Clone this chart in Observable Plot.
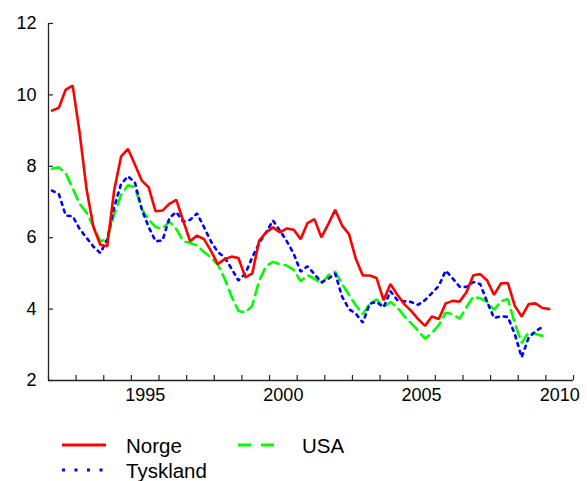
<!DOCTYPE html>
<html><head><meta charset="utf-8">
<script src="https://cdn.jsdelivr.net/npm/d3@7"></script>
<script src="https://cdn.jsdelivr.net/npm/@observablehq/plot@0.6"></script>
<style>
body{margin:0;background:#fff;font-family:"Liberation Sans",Arial,sans-serif;}
#wrap{position:relative;width:587px;height:481px;overflow:hidden;}
.lt{position:absolute;font-size:20.5px;line-height:22px;height:22px;color:#000;white-space:nowrap;}
.ls{position:absolute;}
</style></head><body><div id="wrap"><div id="chart"></div></div>
<script>
// Quarterly data, starting 1992 Q1
const startYear = 1992;
const seriesNames = ["Norge", "Tyskland", "USA"];
const seriesColors = ["#ff0000", "#0000ff", "#00ff00"];
const norge = [
  9.56, 9.64, 10.15, 10.26, 8.95, 7.37, 6.3, 5.8, 5.76, 7.32, 8.27, 8.49,
  8.05, 7.6, 7.41, 6.74, 6.76, 6.95, 7.06, 6.48, 5.9, 6.06, 5.96, 5.64,
  5.26, 5.40, 5.47, 5.43, 4.89, 5.0, 5.92, 6.15, 6.29, 6.15, 6.26, 6.22,
  5.96, 6.41, 6.52, 6.01, 6.38, 6.78, 6.34, 6.10, 5.40, 4.94, 4.94, 4.87,
  4.25, 4.70, 4.40, 4.14, 3.95, 3.72, 3.53, 3.79, 3.72, 4.16, 4.23, 4.21,
  4.47, 4.95, 4.98, 4.80, 4.40, 4.72, 4.73, 4.09, 3.79, 4.14, 4.16, 4.03,
  4.0
];
const tyskland = [
  7.32, 7.22, 6.62, 6.60, 6.25, 6.0, 5.75, 5.57, 5.95, 6.85, 7.5, 7.72,
  7.55, 6.8, 6.3, 5.9, 5.92, 6.55, 6.72, 6.45, 6.5, 6.68, 6.3, 5.9,
  5.6, 5.45, 5.13, 4.8, 5.0, 5.45, 5.85, 6.15, 6.48, 6.2, 5.9, 5.55,
  5.05, 5.2, 4.98, 4.75, 4.85, 5.0, 4.35, 4.0, 3.87, 3.62, 4.15, 4.2,
  4.05, 4.5, 4.25, 4.22, 4.2, 4.12, 4.25, 4.45, 4.65, 5.08, 4.86, 4.63,
  4.62, 4.76, 4.7, 4.2, 3.75, 3.8, 3.78, 3.3, 2.65, 3.2, 3.38, 3.5
];
const usa = [
  7.93, 7.97, 7.8, 7.38, 6.95, 6.7, 6.32, 5.9, 5.95, 6.65, 7.2, 7.47,
  7.42, 6.8, 6.5, 6.3, 6.25, 6.45, 6.25, 5.9, 5.85, 5.78, 5.6, 5.45,
  5.25, 4.85, 4.35, 3.95, 3.9, 4.1, 4.8, 5.2, 5.32, 5.26, 5.22, 5.1,
  4.78, 4.95, 4.85, 4.7, 4.95, 5.05, 4.7, 4.4, 4.1, 3.86, 4.15, 4.27,
  4.05, 4.2, 4.05, 3.8, 3.6, 3.4, 3.17, 3.33, 3.55, 3.9, 3.86, 3.73,
  4.05, 4.35, 4.3, 4.2, 3.98, 4.22, 4.28, 3.6, 3.05, 3.35, 3.3, 3.25
];
const xTickYears = d3.range(1992, 2012);
const xLabelYears = [1995, 2000, 2005, 2010];
const yTicks = [2, 4, 6, 8, 10, 12];

const seriesValues = [norge, tyskland, usa];
const rows = [];
seriesValues.forEach((arr, k) => arr.forEach((v, i) => rows.push({series: seriesNames[k], t: startYear + (i + 0.5) / 4, v})));
const of = name => rows.filter(d => d.series === name);

const W = 587, H = 415, mT = 23, mB = 35, mL = 48, mR = 14, tickLen = 5;
const font = '"Liberation Sans", Arial, sans-serif';
const chart = Plot.plot({
  width: W, height: H,
  marginTop: mT, marginBottom: mB, marginLeft: mL, marginRight: mR,
  style: {fontFamily: font, fontSize: "18px", color: "#000", background: "#fff", overflow: "visible"},
  x: {domain: [1992, 2011], label: null},
  y: {domain: [2, 12], label: null},
  marks: [
    Plot.axisY(yTicks, {tickSize: 0, tickPadding: 12, fontSize: 18, fill: "#000", label: null}),
    Plot.axisX(xLabelYears.map(y => y + 0.5), {tickSize: 0, tickPadding: 8, fontSize: 18, fill: "#000", tickFormat: d => String(Math.floor(d)), label: null}),
    Plot.tickX(xTickYears, {x: d => d, insetTop: H - mT - mB - tickLen, stroke: "#222", strokeWidth: 1.2}),
    Plot.tickY(yTicks, {y: d => d, insetRight: W - mL - mR - tickLen, stroke: "#222", strokeWidth: 1.2}),
    Plot.ruleX([1992], {stroke: "#222", strokeWidth: 1.3}),
    Plot.ruleY([2], {stroke: "#222", strokeWidth: 1.3}),
    Plot.line(of("USA"), {x: "t", y: "v", stroke: seriesColors[2], strokeWidth: 2.6, strokeDasharray: "11,6", strokeLinejoin: "miter"}),
    Plot.line(of("Tyskland"), {x: "t", y: "v", stroke: seriesColors[1], strokeWidth: 2.6, strokeDasharray: "3,5", strokeLinejoin: "miter"}),
    Plot.line(of("Norge"), {x: "t", y: "v", stroke: seriesColors[0], strokeWidth: 2.6, strokeLinejoin: "miter"})
  ]
});
const wrap = document.getElementById("wrap");
document.getElementById("chart").appendChild(chart);

// Legend
const legendItems = [
  {name: seriesNames[0], color: seriesColors[0], dash: null, sx: 62, tx: 126, cy: 446},
  {name: seriesNames[2], color: seriesColors[2], dash: "13,10", sx: 238, tx: 302, cy: 446},
  {name: seriesNames[1], color: seriesColors[1], dash: "3,9.5", sx: 62, tx: 126, cy: 471}
];
for (const it of legendItems) {
  const s = d3.create("svg").attr("class", "ls").attr("width", 46).attr("height", 8)
    .style("left", it.sx + "px").style("top", (it.cy - 5) + "px");
  s.append("line").attr("x1", 0).attr("x2", 44).attr("y1", 4).attr("y2", 4)
    .attr("stroke", it.color).attr("stroke-width", 3)
    .attr("stroke-dasharray", it.dash);
  wrap.appendChild(s.node());
  const t = document.createElement("div");
  t.className = "lt";
  t.textContent = it.name;
  t.style.left = it.tx + "px";
  t.style.top = (it.cy - 11) + "px";
  wrap.appendChild(t);
}
</script></body></html>
